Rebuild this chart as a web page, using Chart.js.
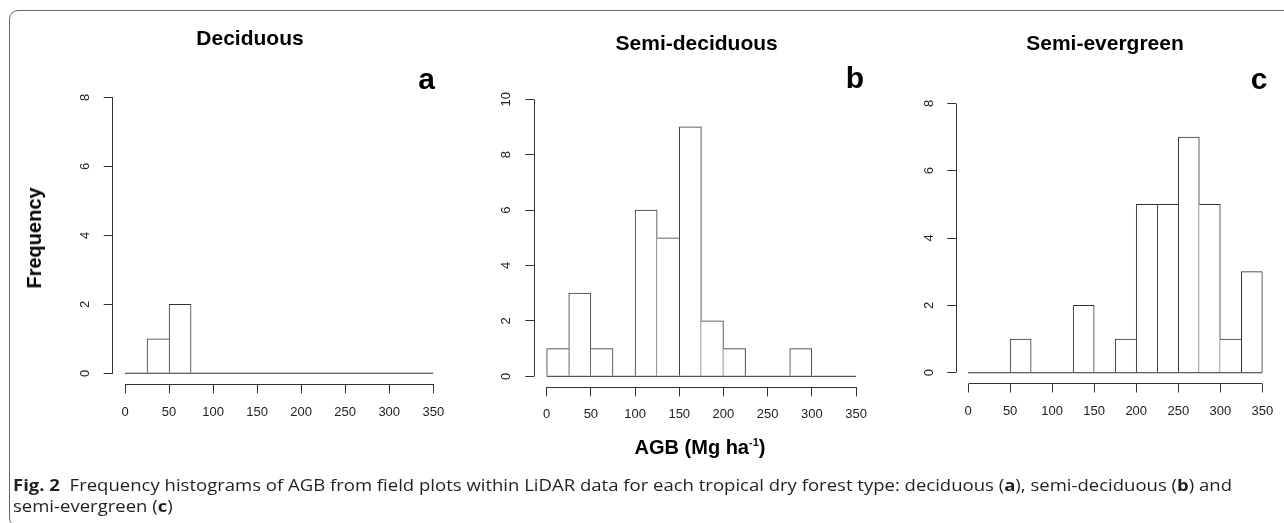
<!DOCTYPE html>
<html>
<head>
<meta charset="utf-8">
<script src="https://cdn.jsdelivr.net/npm/chart.js@4.4.1/dist/chart.umd.min.js"></script>
<style>
  html, body { margin: 0; padding: 0; background: #fff; }
  #wrap { position: relative; width: 1284px; height: 523px; overflow: hidden; background: #fff; }
  canvas { position: absolute; left: 0; top: 0; }
  .frame { position: absolute; left: 9px; top: 10px; width: 1400px; height: 517px;
           border: 1.5px solid #666; border-radius: 9px; box-sizing: border-box; }
  .t { position: absolute; transform: translate(-50%, -50%); line-height: 1; white-space: nowrap;
       font-family: "Liberation Sans", Arial, Helvetica, sans-serif; font-weight: bold; color: #000; }
  .title { font-size: 21px; }
  .letter { font-size: 30px; }
  .axis-title { font-size: 20px; }
  .rot { transform: translate(-50%, -50%) rotate(-90deg); }
  sup { font-size: 11px; vertical-align: 8px; line-height: 0; }
  .cap { position: absolute; left: 13px; font-family: "Open Sans", "Noto Sans", sans-serif; font-size: 16.5px;
         color: #231f20; white-space: nowrap; line-height: 1; transform-origin: 0 0; }
  .cap b { font-weight: 700; }
</style>
</head>
<body>
<div id="wrap">
  <div class="frame"></div>
  <canvas id="ca" width="1284" height="523"></canvas>
  <canvas id="cb" width="1284" height="523"></canvas>
  <canvas id="cc" width="1284" height="523"></canvas>
  <div class="t title" id="t0" style="left:250px; top:36.7px;"></div>
  <div class="t title" id="t1" style="left:696.7px; top:41.7px;"></div>
  <div class="t title" id="t2" style="left:1105px; top:41.7px;"></div>
  <div class="t letter" id="l0" style="left:426.7px; top:78.7px;"></div>
  <div class="t letter" id="l1" style="left:855px; top:78.4px;"></div>
  <div class="t letter" id="l2" style="left:1259px; top:79.4px;"></div>
  <div class="t axis-title rot" id="ylab" style="left:34px; top:237.5px;"></div>
  <div class="t axis-title" id="xlab" style="left:700px; top:447px;"></div>
  <div class="cap" id="cap1" style="top:477px;"></div>
  <div class="cap" id="cap2" style="top:498px;"></div>
</div>
<script>
// ---- data ----
const binEdges = [0, 25, 50, 75, 100, 125, 150, 175, 200, 225, 250, 275, 300, 325, 350];
const xTickValues = [0, 50, 100, 150, 200, 250, 300, 350];
const deciduousCounts     = [0, 1, 2, 0, 0, 0, 0, 0, 0, 0, 0, 0, 0, 0];
const semiDeciduousCounts = [1, 3, 1, 0, 6, 5, 9, 2, 1, 0, 0, 1, 0, 0];
const semiEvergreenCounts = [0, 0, 1, 0, 0, 2, 0, 1, 5, 5, 7, 5, 1, 3];
const yTicksDeciduous     = [0, 2, 4, 6, 8];
const yTicksSemiDeciduous = [0, 2, 4, 6, 8, 10];
const yTicksSemiEvergreen = [0, 2, 4, 6, 8];
const panelTitles  = ['Deciduous', 'Semi-deciduous', 'Semi-evergreen'];
const panelLetters = ['a', 'b', 'c'];
const yAxisTitle = 'Frequency';
const xAxisTitleHTML = 'AGB (Mg ha<sup>-1</sup>)';
const captionLine1 = '<b>Fig. 2</b>&nbsp;&nbsp;Frequency histograms of AGB from field plots within LiDAR data for each tropical dry forest type: deciduous (<b>a</b>), semi-deciduous (<b>b</b>) and';
const captionLine2 = 'semi-evergreen (<b>c</b>)';

// ---- layout (positions / styles only) ----
const W = 1284, H = 523;
const panels = [
  { id: 'ca', counts: deciduousCounts,     yTicks: yTicksDeciduous,     area: { left: 112.7, top: 86.3, right: 445.6, bottom: 384.3 }, yPad: 14.7, xPad: 11.8 },
  { id: 'cb', counts: semiDeciduousCounts, yTicks: yTicksSemiDeciduous, area: { left: 534.3, top: 88.1, right: 868.4, bottom: 387.4 }, yPad: 11.6, xPad: 10.6 },
  { id: 'cc', counts: semiEvergreenCounts, yTicks: yTicksSemiEvergreen, area: { left: 956.3, top: 92.5, right: 1281.3, bottom: 383.5 }, yPad: 14.7, xPad: 10.7 }
];
const AX_W = 60, AX_H = 40;
const LINE = '#333';

Chart.defaults.font.family = '"Liberation Sans", Arial, Helvetica, sans-serif';
Chart.defaults.color = '#222';

function align(p) { return Math.round(p - 0.5) + 0.5; }

const axisLinePlugin = {
  id: 'axisLines',
  afterDraw(chart) {
    const { ctx, chartArea, scales } = chart;
    const x = scales.x, y = scales.y;
    const xt = chart.options.custom.xTicks, yt = chart.options.custom.yTicks;
    ctx.save();
    ctx.strokeStyle = LINE;
    ctx.lineWidth = 1;
    ctx.beginPath();
    const by = align(chartArea.bottom);
    ctx.moveTo(align(x.getPixelForValue(xt[0])), by);
    ctx.lineTo(align(x.getPixelForValue(xt[xt.length - 1])), by);
    const lx = align(chartArea.left);
    ctx.moveTo(lx, align(y.getPixelForValue(yt[0])));
    ctx.lineTo(lx, align(y.getPixelForValue(yt[yt.length - 1])));
    ctx.stroke();
    ctx.restore();
  }
};

panels.forEach((p, k) => {
  const bars = binEdges.slice(0, -1).map((e, i) => ({ x: (e + binEdges[i + 1]) / 2, y: p.counts[i] }));
  const base = [{ x: binEdges[0], y: 0 }, { x: binEdges[binEdges.length - 1], y: 0 }];
  const xr = binEdges[binEdges.length - 1] - binEdges[0];
  const yr = p.yTicks[p.yTicks.length - 1] - p.yTicks[0];
  const a = p.area;
  new Chart(document.getElementById(p.id), {
    type: 'bar',
    data: {
      datasets: [
        {
          type: 'bar',
          data: bars,
          backgroundColor: '#ffffff',
          borderColor: LINE,
          borderSkipped: false,
          barPercentage: 1,
          categoryPercentage: 1,
          order: 2,
          borderWidth: (c) => {
            if (c.dataIndex === undefined) return 1;
            const v = c.dataset.data.map(d => d.y);
            const i = c.dataIndex;
            const cur = v[i];
            if (!cur) return 0;
            const prev = i > 0 ? v[i - 1] : 0;
            const next = i < v.length - 1 ? v[i + 1] : 0;
            return { top: 1, bottom: 0, left: cur >= prev ? 1 : 0, right: cur > next ? 1 : 0 };
          }
        },
        {
          type: 'line',
          data: base,
          borderColor: LINE,
          borderWidth: 1,
          pointRadius: 0,
          fill: false,
          order: 1
        }
      ]
    },
    options: {
      responsive: false,
      animation: false,
      devicePixelRatio: 1,
      custom: { xTicks: xTickValues, yTicks: p.yTicks },
      layout: { padding: { left: a.left - AX_W, top: a.top, right: W - a.right, bottom: H - a.bottom - AX_H } },
      plugins: { legend: { display: false }, tooltip: { enabled: false }, title: { display: false } },
      scales: {
        x: {
          type: 'linear',
          offset: false,
          min: binEdges[0] - 0.04 * xr,
          max: binEdges[binEdges.length - 1] + 0.04 * xr,
          afterBuildTicks: (s) => { s.ticks = xTickValues.map(v => ({ value: v })); },
          afterFit: (s) => { s.height = AX_H; },
          border: { display: false },
          grid: { offset: false, drawOnChartArea: false, drawTicks: true, tickLength: 9, color: LINE, lineWidth: 1 },
          ticks: { padding: p.xPad, font: { size: 13 }, color: '#222', maxRotation: 0, minRotation: 0, autoSkip: false }
        },
        y: {
          type: 'linear',
          min: p.yTicks[0] - 0.04 * yr,
          max: p.yTicks[p.yTicks.length - 1] + 0.04 * yr,
          afterBuildTicks: (s) => { s.ticks = p.yTicks.map(v => ({ value: v })); },
          afterFit: (s) => { s.width = AX_W; },
          border: { display: false },
          grid: { drawOnChartArea: false, drawTicks: true, tickLength: 9, color: LINE, lineWidth: 1 },
          ticks: { padding: p.yPad, font: { size: 13 }, color: '#222', minRotation: 90, maxRotation: 90, crossAlign: 'center', autoSkip: false }
        }
      }
    },
    plugins: [axisLinePlugin]
  });
  document.getElementById('t' + k).textContent = panelTitles[k];
  document.getElementById('l' + k).textContent = panelLetters[k];
});

document.getElementById('ylab').textContent = yAxisTitle;
document.getElementById('xlab').innerHTML = xAxisTitleHTML;
const c1 = document.getElementById('cap1'), c2 = document.getElementById('cap2');
c1.innerHTML = captionLine1;
c2.innerHTML = captionLine2;
function fitCaption() {
  const target = 1232 - 13;
  const w = c1.offsetWidth;
  if (w > 0) {
    const s = target / w;
    c1.style.transform = 'scaleX(' + s + ')';
    c2.style.transform = 'scaleX(' + s + ')';
  }
}
fitCaption();
if (document.fonts && document.fonts.ready) document.fonts.ready.then(fitCaption);
</script>
</body>
</html>
